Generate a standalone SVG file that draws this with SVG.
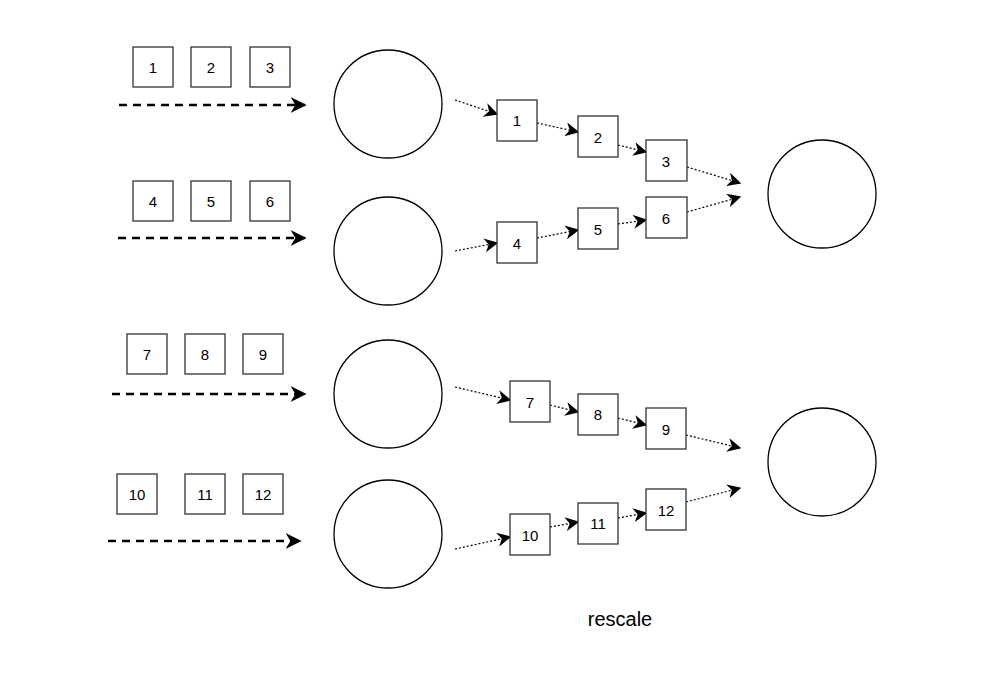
<svg xmlns="http://www.w3.org/2000/svg" width="1001" height="688" viewBox="0 0 1001 688">
<style>
.b{fill:#fff;stroke:#333;stroke-width:1.3}
.c{fill:#fff;stroke:#000;stroke-width:1.3}
text{font-family:"Liberation Sans",Arial,sans-serif;font-size:15px;text-anchor:middle;dominant-baseline:central;fill:#000}
.d{stroke:#000;stroke-width:2.5;stroke-dasharray:8 6;fill:none}
.o{stroke:#000;stroke-width:1.2;stroke-dasharray:2 2;fill:none}
</style>
<defs>
<marker id="a2" viewBox="0 0 10 10" refX="9" refY="5" markerWidth="16" markerHeight="16" markerUnits="userSpaceOnUse" orient="auto"><path d="M0,0L10,5L0,10L3,5z" fill="#000"/></marker>
<marker id="a3" viewBox="0 0 10 10" refX="9" refY="5" markerWidth="14" markerHeight="14" markerUnits="userSpaceOnUse" orient="auto"><path d="M0,0L10,5L0,10L3,5z" fill="#000"/></marker>
</defs>
<g id="connectors">
<path class="d" marker-end="url(#a2)" d="M119,105H305"/>
<path class="d" marker-end="url(#a2)" d="M118,238H305"/>
<path class="d" marker-end="url(#a2)" d="M112,394H305"/>
<path class="d" marker-end="url(#a2)" d="M108,541H300"/>
<g marker-end="url(#a3)">
<path class="o" d="M455,100L497,114"/>
<path class="o" d="M537,123L578,132"/>
<path class="o" d="M618,145L646,152"/>
<path class="o" d="M687,167L740,183"/>
<path class="o" d="M455,251L497,243"/>
<path class="o" d="M537,238L578,230"/>
<path class="o" d="M618,224L646,220"/>
<path class="o" d="M687,212L740,197"/>
<path class="o" d="M455,387L510,400"/>
<path class="o" d="M550,405L578,412"/>
<path class="o" d="M618,418L646,425"/>
<path class="o" d="M686,435L740,448"/>
<path class="o" d="M455,549L510,537"/>
<path class="o" d="M550,527L578,522"/>
<path class="o" d="M618,518L646,513"/>
<path class="o" d="M686,502L740,488"/>
</g>
</g>
<g id="circles">
<circle id="c1" class="c" cx="388" cy="104" r="54"/>
<circle id="c2" class="c" cx="388" cy="251" r="54"/>
<circle id="c3" class="c" cx="388" cy="394" r="54"/>
<circle id="c4" class="c" cx="388" cy="534" r="54"/>
<circle id="c5" class="c" cx="822" cy="194" r="54"/>
<circle id="c6" class="c" cx="822" cy="462" r="54"/>
</g>
<g id="inputs">
<g id="i1"><rect class="b" x="133" y="47" width="40" height="40"/><text x="153" y="67">1</text></g>
<g id="i2"><rect class="b" x="191" y="47" width="40" height="40"/><text x="211" y="67">2</text></g>
<g id="i3"><rect class="b" x="250" y="47" width="40" height="40"/><text x="270" y="67">3</text></g>
<g id="i4"><rect class="b" x="133" y="181" width="40" height="40"/><text x="153" y="201">4</text></g>
<g id="i5"><rect class="b" x="191" y="181" width="40" height="40"/><text x="211" y="201">5</text></g>
<g id="i6"><rect class="b" x="250" y="181" width="40" height="40"/><text x="270" y="201">6</text></g>
<g id="i7"><rect class="b" x="127" y="334" width="40" height="40"/><text x="147" y="354">7</text></g>
<g id="i8"><rect class="b" x="185" y="334" width="40" height="40"/><text x="205" y="354">8</text></g>
<g id="i9"><rect class="b" x="243" y="334" width="40" height="40"/><text x="263" y="354">9</text></g>
<g id="i10"><rect class="b" x="117" y="474" width="40" height="40"/><text x="137" y="494">10</text></g>
<g id="i11"><rect class="b" x="185" y="474" width="40" height="40"/><text x="205" y="494">11</text></g>
<g id="i12"><rect class="b" x="243" y="474" width="40" height="40"/><text x="263" y="494">12</text></g>
</g>
<g id="outputs">
<g id="o1"><rect class="b" x="497" y="100" width="40" height="41"/><text x="517" y="120">1</text></g>
<g id="o2"><rect class="b" x="578" y="116" width="40" height="41"/><text x="598" y="137">2</text></g>
<g id="o3"><rect class="b" x="646" y="140" width="41" height="41"/><text x="666" y="161">3</text></g>
<g id="o4"><rect class="b" x="497" y="222" width="40" height="41"/><text x="517" y="243">4</text></g>
<g id="o5"><rect class="b" x="578" y="208" width="40" height="41"/><text x="598" y="229">5</text></g>
<g id="o6"><rect class="b" x="646" y="197" width="41" height="41"/><text x="666" y="218">6</text></g>
<g id="o7"><rect class="b" x="510" y="381" width="40" height="41"/><text x="530" y="402">7</text></g>
<g id="o8"><rect class="b" x="578" y="394" width="40" height="41"/><text x="598" y="414">8</text></g>
<g id="o9"><rect class="b" x="646" y="408" width="40" height="41"/><text x="666" y="429">9</text></g>
<g id="o10"><rect class="b" x="510" y="514" width="40" height="41"/><text x="530" y="535">10</text></g>
<g id="o11"><rect class="b" x="578" y="503" width="40" height="41"/><text x="598" y="523">11</text></g>
<g id="o12"><rect class="b" x="646" y="489" width="40" height="41"/><text x="666" y="510">12</text></g>
</g>
<text x="620" y="619" style="font-size:20px">rescale</text>
</svg>
